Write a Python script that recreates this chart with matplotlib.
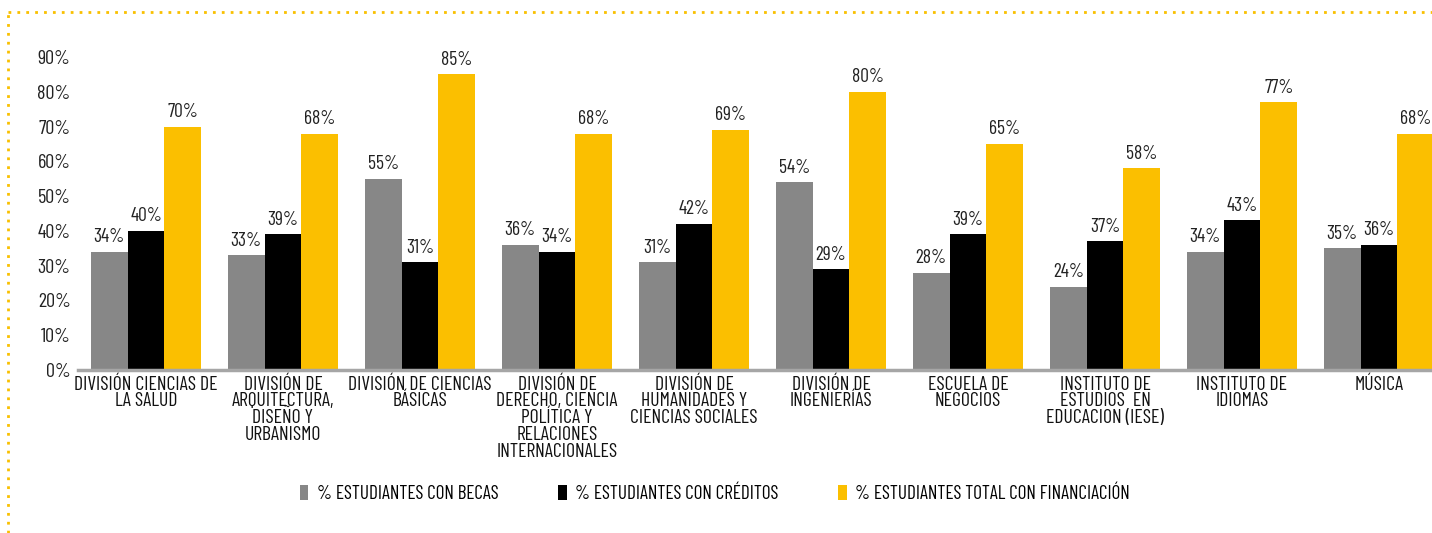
import numpy as np
import matplotlib
matplotlib.use("Agg")
import matplotlib.pyplot as plt
from matplotlib.lines import Line2D

plt.rcParams['font.family'] = ['Barlow Condensed', 'DejaVu Sans']

categorias = [
    "DIVISIÓN CIENCIAS DE\nLA SALUD",
    "DIVISIÓN DE\nARQUITECTURA,\nDISEÑO Y\nURBANISMO",
    "DIVISIÓN DE CIENCIAS\nBÁSICAS",
    "DIVISIÓN DE\nDERECHO, CIENCIA\nPOLÍTICA Y\nRELACIONES\nINTERNACIONALES",
    "DIVISIÓN DE\nHUMANIDADES Y\nCIENCIAS SOCIALES",
    "DIVISIÓN DE\nINGENIERÍAS",
    "ESCUELA DE\nNEGOCIOS",
    "INSTITUTO DE\nESTUDIOS  EN\nEDUCACION (IESE)",
    "INSTITUTO DE\nIDIOMAS",
    "MÚSICA",
]
becas = [34, 33, 55, 36, 31, 54, 28, 24, 34, 35]
creditos = [40, 39, 31, 34, 42, 29, 39, 37, 43, 36]
total = [70, 68, 85, 68, 69, 80, 65, 58, 77, 68]
series_nombres = ["% ESTUDIANTES CON BECAS", "% ESTUDIANTES CON CRÉDITOS",
                  "% ESTUDIANTES TOTAL CON FINANCIACIÓN"]
colores = ["#878787", "#000000", "#FBBF00"]
yticks = [0, 10, 20, 30, 40, 50, 60, 70, 80, 90]

W, H = 1432, 533
fig = plt.figure(figsize=(W / 100, H / 100), dpi=100)
ax = fig.add_axes([77.5 / W, (H - 370) / H, 1370 / W, (370 - 57) / H])

x = np.arange(len(categorias))
bw = 0.268
for k, vals in enumerate([becas, creditos, total]):
    pos = x + (k - 1) * bw
    ax.bar(pos, vals, bw, color=colores[k], label=series_nombres[k])
    for p, v in zip(pos, vals):
        ax.text(p, v + 1.6, f"{v}%", ha="center", va="bottom", fontsize=14,
                color="#222222", clip_on=False)

ax.set_xlim(-0.5, len(categorias) - 0.5)
ax.set_ylim(0, 90)
ax.set_yticks(yticks)
ax.set_yticklabels([f"{t}%" for t in yticks], fontsize=14.5, color="#222222")
ax.set_xticks(x)
ax.set_xticklabels(categorias, fontsize=14.2, color="#111111", linespacing=0.92)
ax.tick_params(axis="both", length=0)
ax.tick_params(axis="x", pad=4)
ax.tick_params(axis="y", pad=5)
for s in ["top", "right", "left"]:
    ax.spines[s].set_visible(False)
ax.spines["bottom"].set_color("#A6A6A6")
ax.spines["bottom"].set_linewidth(2.5)

handles, labels = ax.get_legend_handles_labels()
fig.legend(handles, labels, loc="center", bbox_to_anchor=(715 / W, (H - 494) / H),
           ncol=3, frameon=False, fontsize=13.8, handlelength=0.45, handleheight=0.8,
           handletextpad=0.45, columnspacing=3.1)

# borde punteado amarillo
fig.add_artist(Line2D([8 / W, 1], [1 - 12 / H, 1 - 12 / H], color="#F9C000",
                      linestyle=(0, (1, 2.2)), linewidth=2, transform=fig.transFigure))
fig.add_artist(Line2D([8 / W, 8 / W], [0, 1 - 12 / H], color="#F9C000",
                      linestyle=(0, (1, 2.2)), linewidth=2, transform=fig.transFigure))

fig.savefig("out.png", dpi=100)
